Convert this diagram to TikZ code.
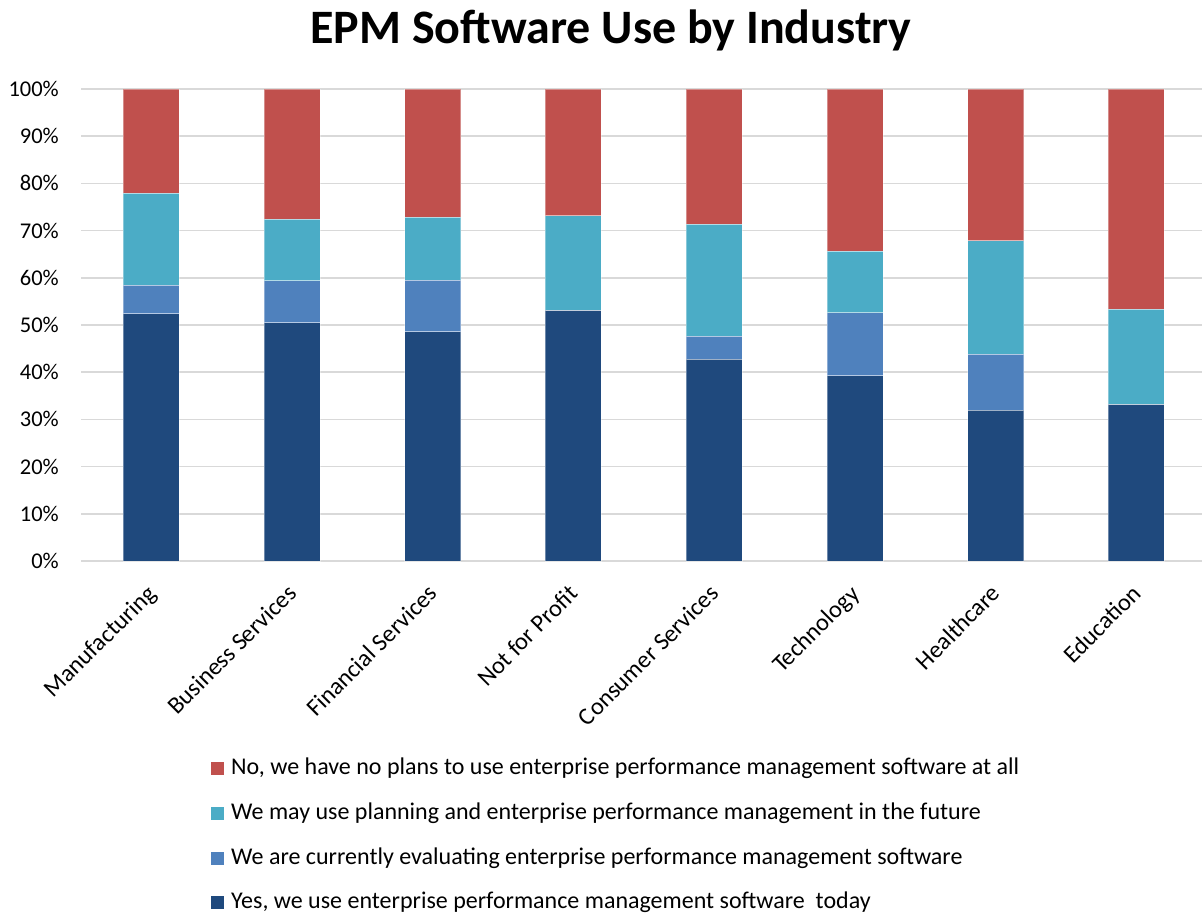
\documentclass[tikz,border=0pt]{standalone}
\usepackage{fontspec}
\setmainfont{Carlito}
\definecolor{cYes}{HTML}{1F497D}
\definecolor{cEval}{HTML}{4F81BD}
\definecolor{cMay}{HTML}{4BACC6}
\definecolor{cNo}{HTML}{C0504D}
\definecolor{gridgray}{HTML}{D9D9D9}
\begin{document}
\begin{tikzpicture}[x=1pt,y=-1pt,
  gridline/.style={draw=gridgray,line width=1.6pt},
  ticklabel/.style={anchor=east,inner sep=0pt,font=\fontsize{22.5}{26}\selectfont},
  catlabel/.style={anchor=north east,inner sep=0pt,rotate=45,font=\fontsize{24.3}{28}\selectfont},
  legtext/.style={anchor=west,inner sep=0pt,font=\fontsize{24}{28}\selectfont},
  segment/.style={draw=white,draw opacity=0.35,line width=0.6pt},
  legbox/.style={minimum size=13pt,inner sep=0pt,draw=none}]
\fill[white] (0,0) rectangle (1202,914);
\useasboundingbox (0,0) rectangle (1202,914);
% title
\node[font=\fontsize{48}{56}\selectfont\bfseries,anchor=center] (title) at (611,30) {EPM Software Use by Industry};
% grid and ticks
\foreach \i in {0,...,10}{
  \pgfmathsetmacro{\yy}{561-47.2*\i}
  \draw[gridline] (81,\yy) -- (1202,\yy);
  \pgfmathtruncatemacro{\pc}{10*\i}
  \node[ticklabel] (tick\i) at (59,\yy) {\pc\%};
}
% bars
\foreach \n/\a/\b/\c [count=\i from 0] in {
  Manufacturing/52.4/6.0/19.6,
  Business Services/50.5/8.9/13.1,
  Financial Services/48.6/10.9/13.4,
  Not for Profit/53.2/0/20.0,
  Consumer Services/42.7/4.9/23.7,
  Technology/39.3/13.3/13.1,
  Healthcare/31.9/12.0/24.0,
  Education/33.3/0/20.0}{
  \pgfmathsetmacro{\cx}{81+140.7*(\i+0.5)}
  \pgfmathsetmacro{\xl}{\cx-28}
  \pgfmathsetmacro{\xr}{\cx+28}
  \pgfmathsetmacro{\ya}{561-4.72*\a}
  \pgfmathsetmacro{\yb}{\ya-4.72*\b}
  \pgfmathsetmacro{\yc}{\yb-4.72*\c}
  \fill[cYes] (\xl,561) rectangle (\xr,\ya);
  \fill[cEval] (\xl,\ya) rectangle (\xr,\yb);
  \fill[cMay] (\xl,\yb) rectangle (\xr,\yc);
  \fill[cNo] (\xl,\yc) rectangle (\xr,89);
  \draw[segment] (\xl,561) rectangle (\xr,\ya);
  \draw[segment] (\xl,\ya) rectangle (\xr,\yb);
  \draw[segment] (\xl,\yb) rectangle (\xr,\yc);
  \draw[segment] (\xl,\yc) rectangle (\xr,89);
  \pgfmathsetmacro{\lx}{\cx-6}
  \node[catlabel] (cat\i) at (\lx,583) {\n};
}
% legend
\node[legbox,fill=cNo] (lb1) at (217.5,768) {};
\node[legtext] (lt1) at (231,768) {No, we have no plans to use enterprise performance management software at all};
\node[legbox,fill=cMay] (lb2) at (217.5,813) {};
\node[legtext] (lt2) at (231,813) {We may use planning and enterprise performance management in the future};
\node[legbox,fill=cEval] (lb3) at (217.5,858) {};
\node[legtext] (lt3) at (231,858) {We are currently evaluating enterprise performance management software};
\node[legbox,fill=cYes] (lb4) at (217.5,902) {};
\node[legtext] (lt4) at (231,902) {Yes, we use enterprise performance management software\ \ today};
\end{tikzpicture}
\end{document}
